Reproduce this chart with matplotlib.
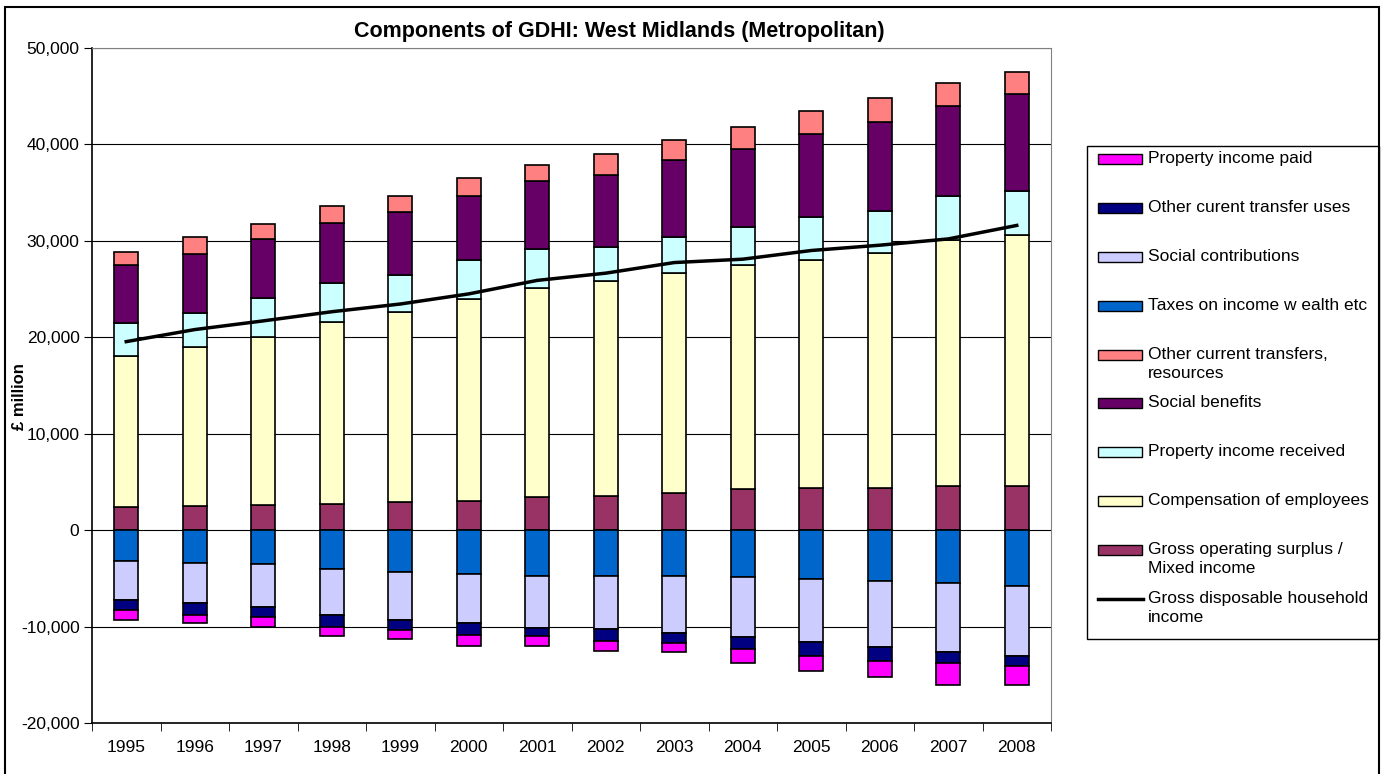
import matplotlib
matplotlib.use('Agg')
import matplotlib.pyplot as plt
from matplotlib.patches import Rectangle
from matplotlib.lines import Line2D

plt.rcParams['font.family'] = ['Liberation Sans', 'DejaVu Sans']

# Datos (millones de libras)
years = ['1995', '1996', '1997', '1998', '1999', '2000', '2001',
         '2002', '2003', '2004', '2005', '2006', '2007', '2008']

gos = [2400, 2520, 2560, 2730, 2900, 3040, 3450, 3560, 3900, 4280, 4420, 4420, 4590, 4590]
comp_employees = [15700, 16480, 17470, 18860, 19720, 20900, 21700, 22240, 22760, 23250, 23630, 24320, 25530, 25980]
prop_received = [3400, 3560, 4040, 4010, 3840, 4040, 4040, 3530, 3700, 3900, 4390, 4350, 4530, 4560]
social_benefits = [5950, 6110, 6160, 6290, 6490, 6630, 6980, 7530, 7980, 8120, 8630, 9190, 9320, 10150]
other_transfers_res = [1380, 1730, 1510, 1690, 1660, 1870, 1690, 2170, 2070, 2210, 2420, 2520, 2420, 2280]

taxes = [-3210, -3390, -3560, -4040, -4390, -4560, -4730, -4730, -4730, -4900, -5080, -5250, -5530, -5770]
social_contrib = [-4050, -4210, -4390, -4770, -4900, -5080, -5390, -5560, -5910, -6220, -6560, -6910, -7150, -7260]
other_transfer_uses = [-1050, -1210, -1030, -1210, -1040, -1240, -860, -1240, -1040, -1180, -1420, -1420, -1070, -1030]
prop_paid = [-1040, -860, -1040, -960, -1000, -1110, -1010, -970, -1000, -1450, -1520, -1690, -2310, -2000]

gdhi = [19550, 20800, 21700, 22650, 23450, 24500, 25900, 26650, 27750, 28100, 29000, 29550, 30200, 31600]

pos_series = [
    ('Gross operating surplus /\nMixed income', gos, '#993366'),
    ('Compensation of employees', comp_employees, '#FFFFCC'),
    ('Property income received', prop_received, '#CCFFFF'),
    ('Social benefits', social_benefits, '#660066'),
    ('Other current transfers,\nresources', other_transfers_res, '#FF8080'),
]
neg_series = [
    ('Taxes on income w ealth etc', taxes, '#0066CC'),
    ('Social contributions', social_contrib, '#CCCCFF'),
    ('Other curent transfer uses', other_transfer_uses, '#000080'),
    ('Property income paid', prop_paid, '#FF00FF'),
]

W, H = 1391, 774
fig = plt.figure(figsize=(W / 100, H / 100), dpi=100)

# marco exterior
fig.patches.append(Rectangle((5 / W, -0.05), (1379 - 5) / W, 1.05 - 7 / H,
                             transform=fig.transFigure, fill=False,
                             edgecolor='black', linewidth=1.5))

ax = fig.add_axes([92 / W, 1 - 723 / H, (1051 - 92) / W, (723 - 48) / H])

x = list(range(len(years)))
bw = 0.35

bottom = [0] * len(years)
for label, vals, col in pos_series:
    ax.bar(x, vals, bw, bottom=bottom, color=col, edgecolor='black', linewidth=1.2, zorder=3)
    bottom = [b + v for b, v in zip(bottom, vals)]

bottom = [0] * len(years)
for label, vals, col in neg_series:
    ax.bar(x, vals, bw, bottom=bottom, color=col, edgecolor='black', linewidth=1.2, zorder=3)
    bottom = [b + v for b, v in zip(bottom, vals)]

ax.plot(x, gdhi, color='black', linewidth=2.5, zorder=4)

ax.set_xlim(-0.5, len(years) - 0.5)
ax.set_ylim(-20000, 50000)
ax.set_yticks(range(-20000, 50001, 10000))
ax.set_yticklabels([f'{v:,}' for v in range(-20000, 50001, 10000)], fontsize=12.5)
ax.set_xticks(x)
ax.set_xticklabels(years, fontsize=12.5)
ax.set_xticks([i - 0.5 for i in range(len(years) + 1)], minor=True)
ax.tick_params(axis='x', which='major', length=0, pad=12)
ax.tick_params(axis='x', which='minor', length=6, direction='out')
ax.tick_params(axis='y', length=6, direction='out', pad=3)
ax.grid(axis='y', color='black', linewidth=0.8, zorder=0)
for s in ['top', 'right']:
    ax.spines[s].set_color('#808080')
for s in ['left', 'bottom']:
    ax.spines[s].set_color('black')
    ax.spines[s].set_linewidth(1.2)

fig.text(619 / W, 1 - 32 / H, 'Components of GDHI: West Midlands (Metropolitan)',
         ha='center', va='center', fontsize=15.5, fontweight='bold')
fig.text(20 / W, 1 - 397 / H, '£ million', rotation=90, ha='center', va='center',
         fontsize=12, fontweight='bold')

# leyenda dibujada a mano (como en Excel)
fig.patches.append(Rectangle((1087 / W, 1 - 639 / H), (1379 - 1087) / W, (639 - 146) / H,
                             transform=fig.transFigure, fill=False,
                             edgecolor='black', linewidth=1.0))
order = [neg_series[3], neg_series[2], neg_series[1], neg_series[0],
         pos_series[4], pos_series[3], pos_series[2], pos_series[1], pos_series[0]]
ys = [159, 208, 257, 306, 355, 403, 452, 501, 550]
for (label, vals, col), yy in zip(order, ys):
    fig.patches.append(Rectangle((1098 / W, 1 - (yy + 5) / H), 44 / W, 10 / H,
                                 transform=fig.transFigure, facecolor=col,
                                 edgecolor='black', linewidth=1.0))
    fig.text(1148 / W, 1 - (yy - 8) / H, label, ha='left', va='top',
             fontsize=12.5, linespacing=1.33)
fig.lines.append(Line2D([1098 / W, 1143 / W], [1 - 599 / H, 1 - 599 / H],
                        transform=fig.transFigure, color='black', linewidth=2.5))
fig.text(1148 / W, 1 - 591 / H, 'Gross disposable household\nincome', ha='left', va='top',
         fontsize=12.5, linespacing=1.33)

fig.savefig('out.png', dpi=100)
